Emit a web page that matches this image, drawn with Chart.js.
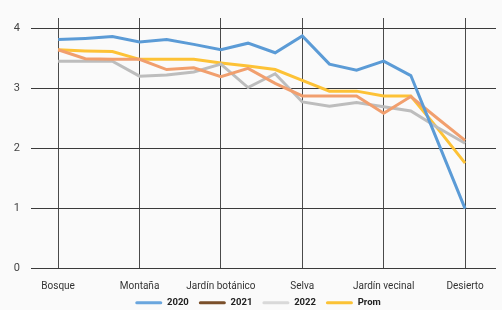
<!DOCTYPE html>
<html lang="es">
<head>
<meta charset="UTF-8">
<title>Gráfico</title>
<script src="https://cdn.jsdelivr.net/npm/chart.js"></script>
<style>
    html, body { margin: 0; padding: 0; background: #fafafa; }
    #grafico { display: block; }
</style>
</head>
<body>
<canvas id="grafico" width="502" height="310"></canvas>
<script>
// etiquetas del eje x (una cada tres puntos)
var etiquetas = ['Bosque', 'Montaña', 'Jardín botánico', 'Selva', 'Jardín vecinal', 'Desierto'];
var pasoEtiqueta = 3;
var marcasY = [0, 1, 2, 3, 4];
var series = ['2020', '2021', '2022', 'Prom'];

var valores2020 = [3.81, 3.83, 3.86, 3.77, 3.81, 3.73, 3.64, 3.75, 3.59, 3.87, 3.40, 3.30, 3.45, 3.21, 2.10, 0.99];
var valores2021 = [3.64, 3.49, 3.48, 3.48, 3.31, 3.34, 3.19, 3.33, 3.08, 2.87, 2.87, 2.87, 2.58, 2.86, 2.49, 2.13];
var valores2022 = [3.45, 3.45, 3.45, 3.20, 3.22, 3.27, 3.40, 3.01, 3.24, 2.77, 2.70, 2.76, 2.69, 2.62, 2.34, 2.08];
var valoresProm = [3.64, 3.62, 3.61, 3.48, 3.48, 3.48, 3.42, 3.37, 3.31, 3.13, 2.95, 2.95, 2.87, 2.87, 2.32, 1.75];

var coloresLinea = ['#5b9bd6', '#f19f6e', '#bdbdbd', '#fdc236'];
var coloresLeyenda = ['#6aa6de', '#7a4f2a', '#d9d9d9', '#fbc235'];

function puntos(arr) {
    return arr.map(function(v, i) { return { x: i, y: v }; });
}

var todas = [valores2020, valores2021, valores2022, valoresProm];

// sube un poco la leyenda para que quede pegada a las etiquetas
var moverLeyenda = {
    id: 'moverLeyenda',
    afterLayout: function(chart) {
        var l = chart.legend;
        l.top -= 5; l.bottom -= 5;
        l.left += 10; l.right += 10;
    }
};

document.addEventListener('DOMContentLoaded', function() {
    var ctx = document.getElementById('grafico').getContext('2d');
    Chart.defaults.font.family = 'Roboto';
    new Chart(ctx, {
        type: 'line',
        data: {
            datasets: todas.map(function(arr, i) {
                return {
                    label: series[i],
                    data: puntos(arr),
                    borderColor: coloresLinea[i],
                    backgroundColor: coloresLinea[i],
                    borderWidth: 3,
                    pointRadius: 0,
                    tension: 0
                };
            })
        },
        plugins: [moverLeyenda],
        options: {
            responsive: false,
            animation: false,
            devicePixelRatio: 1,
            layout: { padding: { top: 18, right: 6, left: 0, bottom: 0 } },
            scales: {
                x: {
                    type: 'linear',
                    min: -1,
                    max: 16.14,
                    border: { display: false },
                    grid: { color: '#4a4a4a', lineWidth: 1, drawTicks: false },
                    afterBuildTicks: function(scale) {
                        scale.ticks = etiquetas.map(function(e, i) { return { value: i * pasoEtiqueta }; });
                    },
                    afterFit: function(scale) { scale.height = 25; },
                    ticks: {
                        padding: 12,
                        color: '#333',
                        font: { size: 10 },
                        maxRotation: 0,
                        autoSkip: false,
                        callback: function(v) { return etiquetas[Math.round(v / pasoEtiqueta)]; }
                    }
                },
                y: {
                    min: 0,
                    max: 4.17,
                    border: { display: false },
                    grid: { color: '#3a3a3a', lineWidth: 1, drawTicks: false },
                    afterBuildTicks: function(scale) {
                        scale.ticks = marcasY.map(function(v) { return { value: v }; });
                    },
                    afterFit: function(scale) { scale.width = 31; },
                    ticks: {
                        padding: 11,
                        color: '#444',
                        font: { size: 11 }
                    }
                }
            },
            plugins: {
                tooltip: { enabled: false },
                legend: {
                    position: 'bottom',
                    maxHeight: 17,
                    labels: {
                        boxWidth: 27,
                        boxHeight: 3,
                        padding: 10,
                        color: '#222',
                        useBorderRadius: true,
                        borderRadius: 1.5,
                        font: { size: 9.5, weight: 'bold' },
                        generateLabels: function(chart) {
                            var items = Chart.defaults.plugins.legend.labels.generateLabels(chart);
                            items.forEach(function(it, i) {
                                it.fillStyle = coloresLeyenda[i];
                                it.strokeStyle = coloresLeyenda[i];
                                it.lineWidth = 0;
                            });
                            return items;
                        }
                    }
                }
            }
        }
    });
});
</script>
</body>
</html>
